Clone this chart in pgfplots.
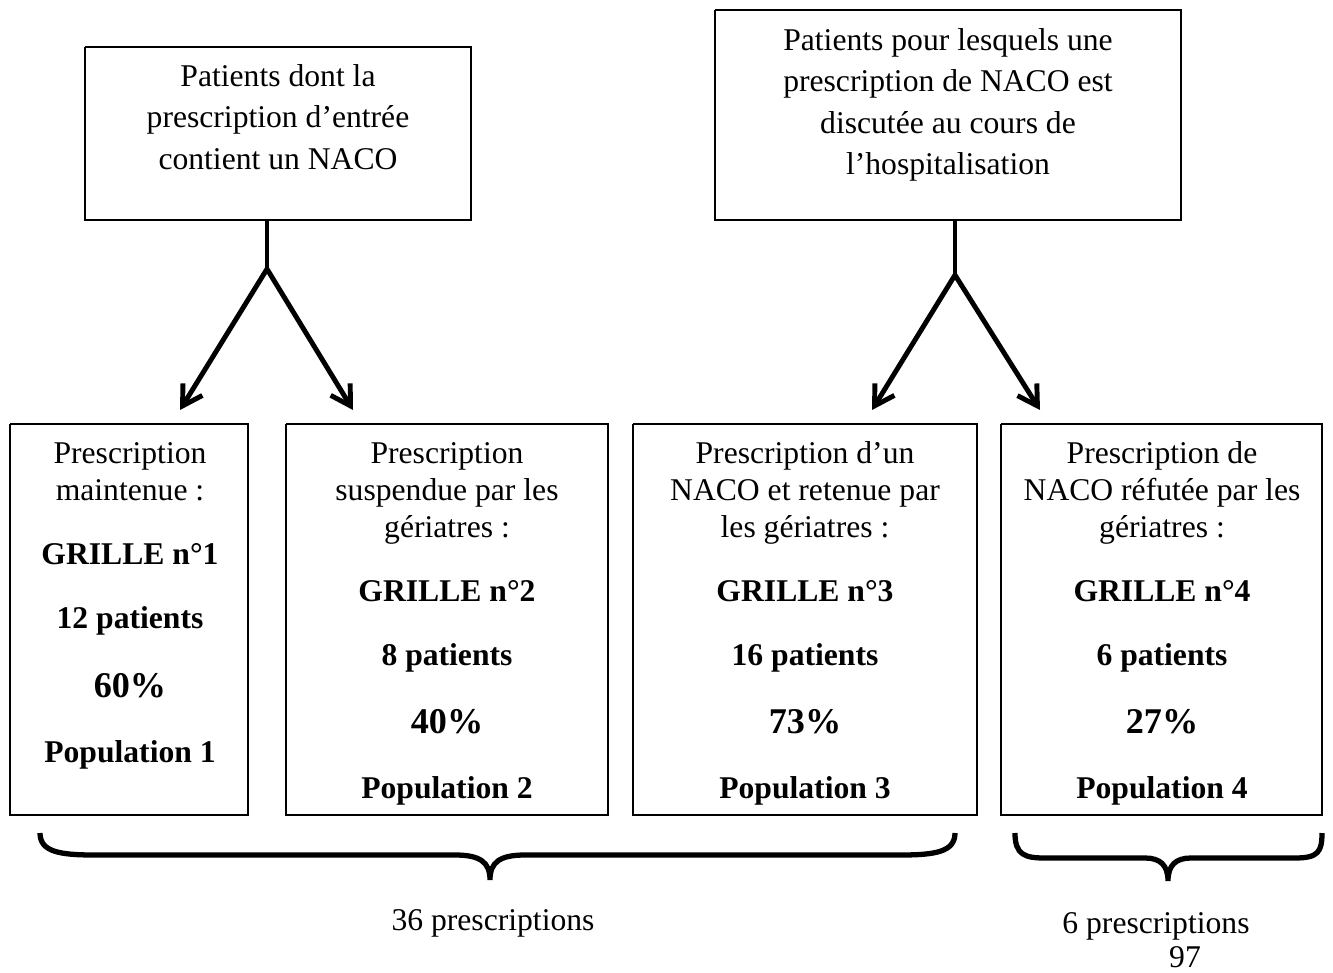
\documentclass[border=0pt]{standalone}
\usepackage{fontspec}
\setmainfont{Liberation Serif}
\usepackage{pgfplots}
\pgfplotsset{compat=1.18}
\usetikzlibrary{arrows.meta}

\tikzset{
    box/.style={black, line width=0.6pt},
    arr/.style={black, line width=1.4pt, -{Straight Barb[length=5.5pt,width=6.5pt]}},
    reg/.style={anchor=base, inner sep=0pt, font=\fontsize{9}{10}\selectfont},
    bld/.style={anchor=base, inner sep=0pt, font=\fontsize{9}{10}\selectfont\bfseries},
    pct/.style={anchor=base, inner sep=0pt, font=\fontsize{10.3}{11}\selectfont\bfseries},
}

\begin{document}
\begin{tikzpicture}
\begin{axis}[
    width=13.33cm, height=9.72cm, scale only axis,
    xmin=0, xmax=1333, ymin=0, ymax=972, y dir=reverse,
    hide axis, clip=false,
]
% keep the whole page area
\path (0,0) rectangle (1333,972);

% top boxes
\addplot[box] coordinates {(85,47) (471,47) (471,220) (85,220) (85,47)};
\addplot[box] coordinates {(715,10) (1181,10) (1181,220) (715,220) (715,10)};
% bottom boxes
\addplot[box] coordinates {(10,424) (248,424) (248,815) (10,815) (10,424)};
\addplot[box] coordinates {(286,424) (608,424) (608,815) (286,815) (286,424)};
\addplot[box] coordinates {(633,424) (977,424) (977,815) (633,815) (633,424)};
\addplot[box] coordinates {(1001,424) (1322,424) (1322,815) (1001,815) (1001,424)};

% stems and arrows
\addplot[black, line width=1.4pt] coordinates {(267,220) (267,269)};
\addplot[arr] coordinates {(267,269) (180,410)};
\addplot[arr] coordinates {(267,269) (353,410)};
\addplot[black, line width=1.4pt] coordinates {(955,220) (955,275)};
\addplot[arr] coordinates {(955,275) (872,410)};
\addplot[arr] coordinates {(955,275) (1040,410)};

% braces
\draw[line width=1.5pt] (40,833) .. controls (40,852) and (60,855) .. (95,855)
    -- (455,855) .. controls (480,855) and (490,862) .. (490,880)
    .. controls (490,862) and (500,855) .. (525,855) -- (900,855)
    .. controls (935,855) and (955,852) .. (955,833);
\draw[line width=1.5pt] (1015,833) .. controls (1015,855) and (1025,858) .. (1045,858)
    -- (1145,858) .. controls (1160,858) and (1168,865) .. (1168,881)
    .. controls (1168,865) and (1176,858) .. (1191,858) -- (1295,858)
    .. controls (1318,858) and (1322,852) .. (1322,833);

% top texts
\node[reg] at (278,87) {Patients dont la};
\node[reg] at (278,128) {prescription d’entrée};
\node[reg] at (278,170) {contient un NACO};
\node[reg] at (948,51) {Patients pour lesquels une};
\node[reg] at (948,92) {prescription de NACO est};
\node[reg] at (948,134) {discutée au cours de};
\node[reg] at (948,175) {l’hospitalisation};

% box 1
\node[reg] at (130,463) {Prescription};
\node[reg] at (130,500) {maintenue :};
\node[bld] at (130,564) {GRILLE n°1};
\node[bld] at (130,628) {12 patients};
\node[pct] at (130,697) {60\%};
\node[bld] at (130,762) {Population 1};
% box 2
\node[reg] at (447,463) {Prescription};
\node[reg] at (447,500) {suspendue par les};
\node[reg] at (447,537) {gériatres :};
\node[bld] at (447,601) {GRILLE n°2};
\node[bld] at (447,665) {8 patients};
\node[pct] at (447,733) {40\%};
\node[bld] at (447,798) {Population 2};
% box 3
\node[reg] at (805,463) {Prescription d’un};
\node[reg] at (805,500) {NACO et retenue par};
\node[reg] at (805,537) {les gériatres :};
\node[bld] at (805,601) {GRILLE n°3};
\node[bld] at (805,665) {16 patients};
\node[pct] at (805,733) {73\%};
\node[bld] at (805,798) {Population 3};
% box 4
\node[reg] at (1162,463) {Prescription de};
\node[reg] at (1162,500) {NACO réfutée par les};
\node[reg] at (1162,537) {gériatres :};
\node[bld] at (1162,601) {GRILLE n°4};
\node[bld] at (1162,665) {6 patients};
\node[pct] at (1162,733) {27\%};
\node[bld] at (1162,798) {Population 4};

% bottom texts
\node[reg] at (493,930) {36 prescriptions};
\node[reg] at (1156,933) {6 prescriptions};
\node[reg] at (1185,967) {97};
\end{axis}
\end{tikzpicture}
\end{document}
